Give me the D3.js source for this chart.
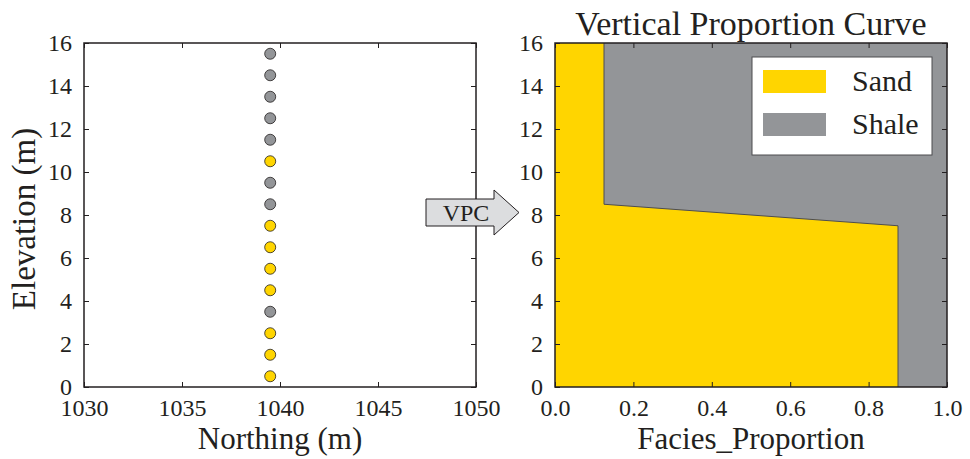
<!DOCTYPE html>
<html>
<head>
<meta charset="utf-8">
<script src="https://cdn.jsdelivr.net/npm/d3@7"></script>
<style>
  body { margin: 0; background: #fff; }
  svg text { font-family: "Liberation Serif", "Times New Roman", serif; fill: #231f20; }
</style>
</head>
<body>
<div id="chart"></div>
<script>
// well samples: elevation of each cell centre and its facies
const sampleNorthing = 1039.5;
const sampleElev = [0.5, 1.5, 2.5, 3.5, 4.5, 5.5, 6.5, 7.5, 8.5, 9.5, 10.5, 11.5, 12.5, 13.5, 14.5, 15.5];
const sampleFacies = ["Sand", "Sand", "Sand", "Shale", "Sand", "Sand", "Sand", "Sand",
                      "Shale", "Shale", "Sand", "Shale", "Shale", "Shale", "Shale", "Shale"];

// vertical proportion curve (sand proportion vs elevation)
const vpcElev = [0, 7.5, 8.5, 16];
const vpcSand = [0.875, 0.875, 0.125, 0.125];

const facies = ["Sand", "Shale"];
const faciesColors = ["#ffd500", "#939598"];

const xTicksLeft = [1030, 1035, 1040, 1045, 1050];
const yTicks = [0, 2, 4, 6, 8, 10, 12, 14, 16];
const xTicksRight = [0, 0.2, 0.4, 0.6, 0.8, 1.0];

const W = 970, H = 459;
const svg = d3.select("#chart").append("svg")
    .attr("width", W)
    .attr("height", H);

const color = d3.scaleOrdinal().domain(facies).range(faciesColors);

const plotTop = 43, plotBottom = 387;
const yScale = d3.scaleLinear().domain([0, 16]).range([plotBottom, plotTop]);

const xLeft = d3.scaleLinear().domain([1030, 1050]).range([84, 476]);
const xRight = d3.scaleLinear().domain([0, 1]).range([555, 947]);

function frame(xs, xTicks, fmt) {
    const [x0, x1] = xs.range();
    const g = svg.append("g");
    // inward ticks on all four sides
    const axes = [
        d3.axisBottom(xs).tickValues(xTicks).tickSize(-5).tickFormat(fmt).tickPadding(12),
        d3.axisTop(xs).tickValues(xTicks).tickSize(-5).tickFormat(""),
        d3.axisLeft(yScale).tickValues(yTicks).tickSize(-5).tickPadding(12),
        d3.axisRight(yScale).tickValues(yTicks).tickSize(-5).tickFormat("")
    ];
    const trans = [`translate(0,${plotBottom})`, `translate(0,${plotTop})`, `translate(${x0},0)`, `translate(${x1},0)`];
    axes.forEach((a, i) => {
        const ag = g.append("g").attr("transform", trans[i]).call(a);
        ag.attr("font-family", null).attr("font-size", null);
        ag.select(".domain").remove();
        ag.selectAll("line").attr("stroke", "#231f20").attr("stroke-width", 1);
        ag.selectAll("text")
            .attr("fill", "#231f20")
            .attr("font-family", "'Liberation Serif', 'Times New Roman', serif")
            .attr("font-size", 24);
    });
    g.append("rect")
        .attr("x", x0).attr("y", plotTop)
        .attr("width", x1 - x0).attr("height", plotBottom - plotTop)
        .attr("fill", "none").attr("stroke", "#231f20").attr("stroke-width", 1.5);
    return g;
}

// ---------- left panel: samples ----------
svg.selectAll("circle.sample")
    .data(sampleElev)
    .enter()
    .append("circle")
    .attr("class", "sample")
    .attr("cx", xLeft(sampleNorthing))
    .attr("cy", d => yScale(d))
    .attr("r", 5.5)
    .attr("fill", (d, i) => color(sampleFacies[i]))
    .attr("stroke", "#231f20")
    .attr("stroke-width", 0.8);

frame(xLeft, xTicksLeft, d3.format("d"));

svg.append("text")
    .attr("x", 280).attr("y", 449)
    .attr("text-anchor", "middle")
    .style("font-size", "31px")
    .text("Northing (m)");

svg.append("text")
    .attr("transform", "translate(35,219) rotate(-90)")
    .attr("text-anchor", "middle")
    .style("font-size", "33px")
    .text("Elevation (m)");

// ---------- right panel: VPC ----------
const vpc = vpcElev.map((e, i) => ({ e: e, p: vpcSand[i] }));

svg.append("rect")
    .attr("x", xRight(0)).attr("y", yScale(16))
    .attr("width", xRight(1) - xRight(0)).attr("height", yScale(0) - yScale(16))
    .attr("fill", color("Shale"));

const area = d3.area()
    .y(d => yScale(d.e))
    .x0(xRight(0))
    .x1(d => xRight(d.p));

svg.append("path")
    .datum(vpc)
    .attr("d", area)
    .attr("fill", color("Sand"));

svg.append("path")
    .datum(vpc)
    .attr("d", d3.line().x(d => xRight(d.p)).y(d => yScale(d.e)))
    .attr("fill", "none")
    .attr("stroke", "#4d4d4f")
    .attr("stroke-width", 1);

frame(xRight, xTicksRight, d3.format(".1f"));

svg.append("text")
    .attr("x", 751).attr("y", 35)
    .attr("text-anchor", "middle")
    .style("font-size", "34px")
    .text("Vertical Proportion Curve");

svg.append("text")
    .attr("x", 751).attr("y", 449)
    .attr("text-anchor", "middle")
    .style("font-size", "31px")
    .text("Facies_Proportion");

// legend
const legend = svg.append("g").attr("transform", "translate(752,57)");
legend.append("rect")
    .attr("width", 180).attr("height", 98)
    .attr("fill", "#fff")
    .attr("stroke", "#4d4d4f")
    .attr("stroke-width", 1);

const items = legend.selectAll(".legend")
    .data(facies)
    .enter()
    .append("g")
    .attr("class", "legend")
    .attr("transform", (d, i) => `translate(11, ${13 + i * 43})`);

items.append("rect")
    .attr("width", 63).attr("height", 23)
    .attr("fill", d => color(d));

items.append("text")
    .attr("x", 89).attr("y", 21)
    .style("font-size", "30px")
    .text(d => d);

// VPC arrow between panels
const arrowPts = [[426, 199], [494, 199], [494, 190], [519, 212.5], [494, 235], [494, 226], [426, 226]];
svg.append("path")
    .attr("d", d3.line()(arrowPts) + "Z")
    .attr("fill", "#dcdddf")
    .attr("stroke", "#231f20")
    .attr("stroke-width", 1);

svg.append("text")
    .attr("x", 466).attr("y", 221)
    .attr("text-anchor", "middle")
    .style("font-size", "24px")
    .text("VPC");
</script>
</body>
</html>
